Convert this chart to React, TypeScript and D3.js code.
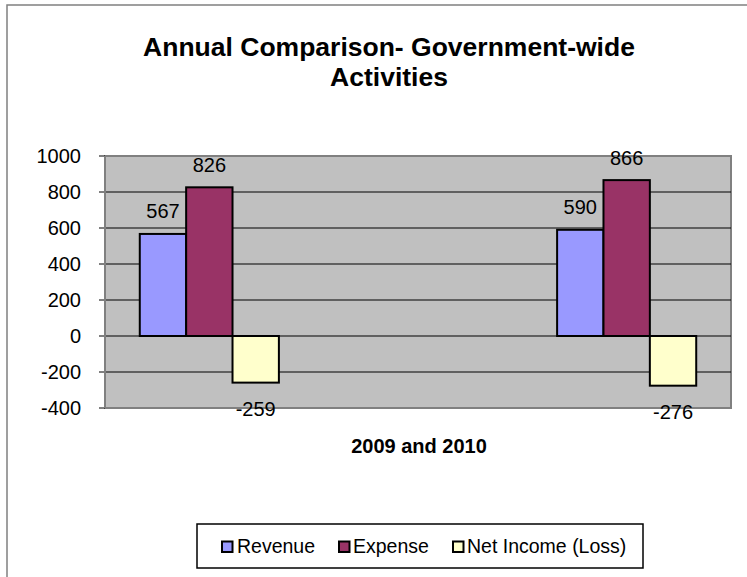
import React from "react";
import * as d3 from "d3";

const categories = ["2009", "blank", "2010"];
const seriesNames = ["Revenue", "Expense", "Net Income (Loss)"];
const revenue = [567, null, 590];
const expense = [826, null, 866];
const netIncome = [-259, null, -276];
const seriesColors = ["#9999FF", "#993366", "#FFFFCC"];
const yTicks = [-400, -200, 0, 200, 400, 600, 800, 1000];

const W = 747;
const H = 577;
const plot = { left: 105, right: 731, top: 156, bottom: 408 };
const font = "Liberation Sans, Arial, sans-serif";

export default function App() {
  const seriesValues = [revenue, expense, netIncome];
  const x = d3.scaleBand<string>().domain(categories).range([plot.left, plot.right]).padding(0);
  const bw = x.bandwidth();
  const gap = bw / 4.5 * 1.5;
  const xs = d3.scaleBand<string>().domain(seriesNames).range([gap / 2, bw - gap / 2]).padding(0);
  const y = d3.scaleLinear().domain([-400, 1000]).range([plot.bottom, plot.top]);

  const bars: React.ReactNode[] = [];
  const labels: React.ReactNode[] = [];
  categories.forEach((c, ci) => {
    seriesNames.forEach((s, si) => {
      const v = seriesValues[si][ci];
      if (v === null || v === undefined) return;
      const bx = (x(c) as number) + (xs(s) as number);
      const y0 = y(0);
      const y1 = y(v);
      bars.push(
        <rect key={`b${ci}${si}`} x={bx} y={Math.min(y0, y1)} width={xs.bandwidth()} height={Math.abs(y1 - y0)}
          fill={seriesColors[si]} stroke="#000" strokeWidth={2} />
      );
      labels.push(
        <text key={`l${ci}${si}`} x={bx + xs.bandwidth() / 2} y={v >= 0 ? y1 - 15.5 : y1 + 33}
          textAnchor="middle" fontSize={20} fontFamily={font} fill="#000">{v}</text>
      );
    });
  });

  const legendItems = [
    { x: 221, tx: 237 },
    { x: 338, tx: 353 },
    { x: 452, tx: 467 },
  ];

  return (
    <div style={{ position: "absolute", left: 0, top: 0 }}>
      <svg width={W} height={H} style={{ display: "block" }}>
        <rect x={0} y={0} width={W} height={H} fill="#fff" />
        <rect x={7} y={5} width={W + 20} height={H + 20} fill="#fff" stroke="#808080" strokeWidth={1.5} />
        <text x={389} y={56} textAnchor="middle" fontSize={26.5} fontWeight="bold" fontFamily={font}>
          Annual Comparison- Government-wide
        </text>
        <text x={389} y={86} textAnchor="middle" fontSize={26.5} fontWeight="bold" fontFamily={font}>
          Activities
        </text>
        <rect x={plot.left} y={plot.top} width={plot.right - plot.left} height={plot.bottom - plot.top}
          fill="#C0C0C0" stroke="#808080" strokeWidth={2} />
        {yTicks.map((t) => (
          <g key={t}>
            {t !== -400 && t !== 1000 && (
              <line x1={plot.left} x2={plot.right} y1={y(t)} y2={y(t)} stroke="#000" strokeWidth={1} />
            )}
            <line x1={plot.left - 6} x2={plot.left} y1={y(t)} y2={y(t)} stroke="#000" strokeWidth={1} />
            <text x={81} y={y(t) + 7} textAnchor="end" fontSize={20} fontFamily={font}>{t}</text>
          </g>
        ))}
        <line x1={plot.left} x2={plot.left} y1={plot.top} y2={plot.bottom} stroke="#808080" strokeWidth={2} />
        {bars}
        {labels}
        <text x={419} y={453} textAnchor="middle" fontSize={20} fontWeight="bold" fontFamily={font}>2009 and 2010</text>
        <rect x={197} y={524} width={446} height={44} fill="#fff" stroke="#000" strokeWidth={1.5} />
        {seriesNames.map((s, i) => (
          <g key={s}>
            <rect x={legendItems[i].x + 1} y={541.5} width={10.5} height={10.5} fill={seriesColors[i]} stroke="#000" strokeWidth={2} />
            <text x={legendItems[i].tx} y={552.5} fontSize={19.5} fontFamily={font}>{s}</text>
          </g>
        ))}
      </svg>
    </div>
  );
}
